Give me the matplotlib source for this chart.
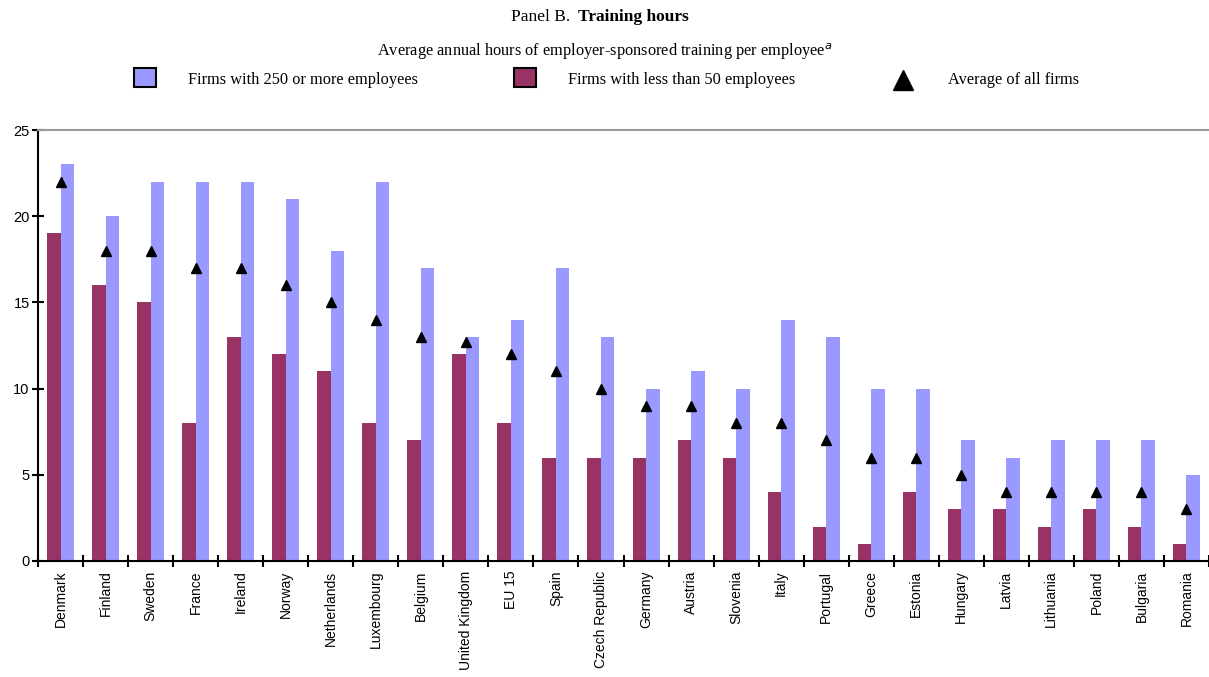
import numpy as np
import matplotlib
matplotlib.use('Agg')
import matplotlib.pyplot as plt
from matplotlib.patches import Rectangle
from matplotlib.lines import Line2D

countries = ['Denmark', 'Finland', 'Sweden', 'France', 'Ireland', 'Norway', 'Netherlands',
             'Luxembourg', 'Belgium', 'United Kingdom', 'EU 15', 'Spain', 'Czech Republic',
             'Germany', 'Austria', 'Slovenia', 'Italy', 'Portugal', 'Greece', 'Estonia',
             'Hungary', 'Latvia', 'Lithuania', 'Poland', 'Bulgaria', 'Romania']
large_firms = [23, 20, 22, 22, 22, 21, 18, 22, 17, 13, 14, 17, 13, 10, 11, 10, 14, 13, 10, 10,
               7, 6, 7, 7, 7, 5]
small_firms = [19, 16, 15, 8, 13, 12, 11, 8, 7, 12, 8, 6, 6, 6, 7, 6, 4, 2, 1, 4,
               3, 3, 2, 3, 2, 1]
all_firms = [22, 18, 18, 17, 17, 16, 15, 14, 13, 12.7, 12, 11, 10, 9, 9, 8, 8, 7, 6, 6,
             5, 4, 4, 4, 4, 3]

blue = '#9999FF'
maroon = '#993366'

fig = plt.figure(figsize=(12.09, 6.77), dpi=100)
ax = fig.add_axes([38/1209, 1-561/677, 1171/1209, 431/677])

x = np.arange(len(countries)) + 0.5
w = 0.3
ax.bar(x - w/2, small_firms, width=w, color=maroon)
ax.bar(x + w/2, large_firms, width=w, color=blue)
ax.plot(x, all_firms, linestyle='none', marker='^', color='black', markersize=6.5)

ax.set_xlim(0, len(countries))
ax.set_ylim(0, 25)
ax.set_yticks([0, 5, 10, 15, 20, 25])
ax.set_xticks(np.arange(len(countries) + 1))
ax.set_xticklabels([])
ax.set_xticks(x, minor=True)
ax.set_xticklabels(countries, minor=True, rotation=90, fontsize=10, family='Liberation Sans')
ax.tick_params(axis='x', which='minor', length=0, pad=7)
ax.tick_params(axis='x', which='major', direction='inout', length=9, width=1.5)
ax.tick_params(axis='y', direction='inout', length=8, width=1.5, labelsize=10.5, pad=2)
for lab in ax.get_yticklabels():
    lab.set_family('Liberation Sans')
ax.spines['left'].set_linewidth(1.5)
ax.spines['bottom'].set_linewidth(1.5)
ax.spines['top'].set_color('#999999')
ax.spines['top'].set_linewidth(1.5)
ax.spines['right'].set_visible(False)

serif = 'Liberation Serif'
fig.text(511/1209, 1-17/677, 'Panel B.', ha='left', va='center', family=serif, fontsize=12.5)
fig.text(578/1209, 1-17/677, 'Training hours', ha='left', va='center', family=serif,
         fontsize=12.5, fontweight='bold')
fig.text(0.5, 1-52/677, r'Average annual hours of employer-sponsored training per employee$^{\it{a}}$',
         ha='center', va='center', family=serif, fontsize=11.8)

# legend
ly = 1-80/677
fig.add_artist(Rectangle((134/1209, 1-87/677), 22/1209, 19/677, transform=fig.transFigure,
                         facecolor=blue, edgecolor='black', linewidth=1.5))
fig.text(188/1209, ly, 'Firms with 250 or more employees', va='center', family=serif, fontsize=11.8)
fig.add_artist(Rectangle((514/1209, 1-87/677), 22/1209, 19/677, transform=fig.transFigure,
                         facecolor=maroon, edgecolor='black', linewidth=1.5))
fig.text(568/1209, ly, 'Firms with less than 50 employees', va='center', family=serif, fontsize=11.8)
fig.add_artist(Line2D([903/1209], [ly], transform=fig.transFigure, marker='^', color='black',
                      markersize=14, linestyle='none'))
fig.text(948/1209, ly, 'Average of all firms', va='center', family=serif, fontsize=11.8)

fig.savefig('out.png', dpi=100)
